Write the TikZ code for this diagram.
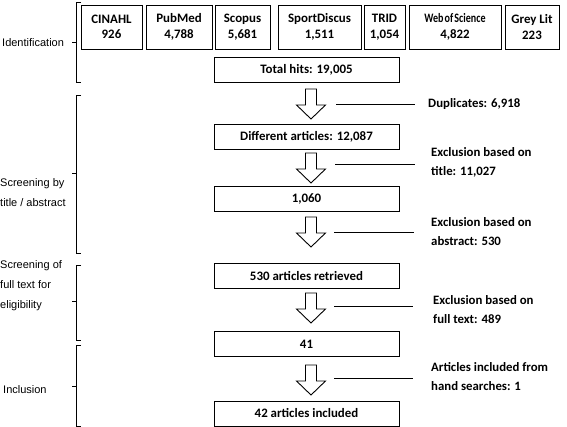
\documentclass[tikz,border=0pt]{standalone}
\usepackage{fontspec}
\usepackage{graphicx}
\setmainfont{Carlito}
\newfontfamily\arialf{Liberation Sans}
\newcommand{\blockarr}[3]{%
  \draw[arrline] (#1-5.5,#2) -- (#1+5.5,#2) -- (#1+5.5,#2+16) -- (#1+14.5,#2+16)
    -- (#1,#3) -- (#1-14.5,#2+16) -- (#1-5.5,#2+16) -- cycle;}
\begin{document}
\begin{tikzpicture}[x=1pt,y=-1pt,
  box/.style={draw, line width=0.9pt, minimum height=25pt, minimum width=185pt, inner sep=0pt,
    font=\bfseries\fontsize{12.9}{15}\selectfont},
  dbbox/.style={draw, line width=0.9pt, minimum height=44pt, inner sep=0pt, align=center,
    font=\bfseries\fontsize{12.9}{15.5}\selectfont},
  lab/.style={anchor=west, align=left, inner sep=0pt, font=\bfseries\fontsize{12.8}{19}\selectfont},
  side/.style={anchor=west, align=left, inner sep=0pt, font=\arialf\fontsize{11}{20}\selectfont},
  conn/.style={line width=0.9pt},
  brk/.style={line width=0.9pt},
  arrline/.style={line width=0.9pt, line join=miter},
]
\useasboundingbox (0,0) rectangle (567,427);

% database boxes
\node[dbbox, minimum width=61pt] (cin) at (111.5,27) {CINAHL\\926};
\node[dbbox, minimum width=66pt] (pub) at (179,27) {PubMed\\4,788};
\node[dbbox, minimum width=55pt] (sco) at (242.5,27) {Scopus\\5,681};
\node[dbbox, minimum width=83pt] (spo) at (319.5,27) {SportDiscus\\1,511};
\node[dbbox, minimum width=41pt] (tri) at (384.5,27) {TRID\\1,054};
\node[dbbox, minimum width=92pt] (wos) at (455,27) {\scalebox{0.78}[1]{Web\hspace{1.5pt}of\hspace{1.5pt}Science}\\4,822};
\node[dbbox, minimum width=54pt] (grey) at (532,27) {Grey Lit\\223};

% flow boxes
\node[box] (tot) at (306.5,69.5) {Total hits: 19,005};
\node[box] (dif) at (306.5,136.5) {Different articles: 12,087};
\node[box] (n1060) at (306.5,198.5) {1,060};
\node[box] (n530) at (306.5,276) {530 articles retrieved};
\node[box] (n41) at (306.5,344) {41};
\node[box] (n42) at (306.5,413.5) {42 articles included};

% block arrows
\blockarr{311}{89}{119}
\blockarr{311}{153}{183}
\blockarr{311}{217}{247}
\blockarr{311}{293}{323}
\blockarr{311}{365}{395}

% side labels (right)
\node[lab] (dup) at (428,104) {Duplicates: 6,918};
\node[lab] (ex1) at (431,162.5) {Exclusion based on\\title: 11,027};
\node[lab] (ex2) at (431,231.5) {Exclusion based on\\abstract: 530};
\node[lab] (ex3) at (433,309.5) {Exclusion based on\\full text: 489};
\node[lab] (ex4) at (431,376.5) {Articles included from\\hand searches: 1};

\coordinate (l1a) at (336,104); \coordinate (l1b) at (415,104);
\coordinate (l2a) at (335,164); \coordinate (l2b) at (415,164);
\coordinate (l3a) at (334,232); \coordinate (l3b) at (414,232);
\coordinate (l4a) at (334,306); \coordinate (l4b) at (413,306);
\coordinate (l5a) at (334,378); \coordinate (l5b) at (413,378);
\draw[conn] (l1a) -- (l1b);
\draw[conn] (l2a) -- (l2b);
\draw[conn] (l3a) -- (l3b);
\draw[conn] (l4a) -- (l4b);
\draw[conn] (l5a) -- (l5b);

% stage labels (left)
\node[side] (st1) at (2,43) {Identification};
\node[side] (st2) at (0,193) {Screening by\\title / abstract};
\node[side] (st3) at (0,286) {Screening of\\full text for\\eligibility};
\node[side] (st4) at (3,390) {Inclusion};

% brackets
\draw[brk] (81,2) -- (76,2) -- (76,82) -- (81,82);
\draw[brk] (76,42) -- (72,42);
\draw[brk] (81,95) -- (76,95) -- (76,253) -- (81,253);
\draw[brk] (76,173) -- (72,173);
\draw[brk] (81,265) -- (76,265) -- (76,340) -- (81,340);
\draw[brk] (76,301) -- (72,301);
\draw[brk] (81,345) -- (76,345) -- (76,426) -- (81,426);
\draw[brk] (76,386) -- (72,386);
\end{tikzpicture}
\end{document}
